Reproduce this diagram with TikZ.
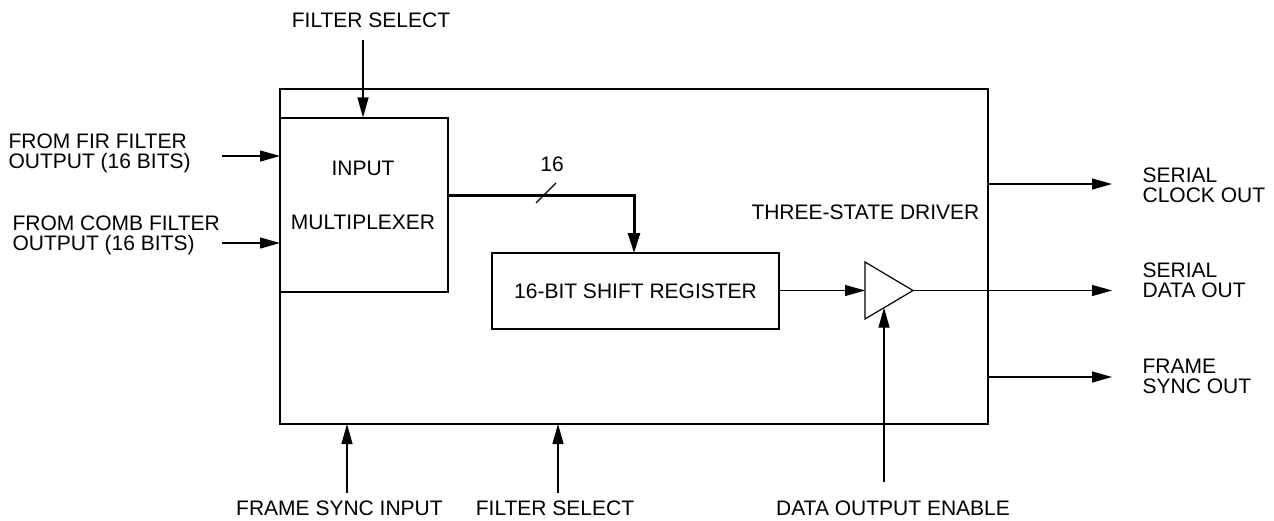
\documentclass[tikz,border=0pt]{standalone}
\usepackage{fontspec}
\setmainfont{Liberation Sans}
\usetikzlibrary{arrows.meta}
\begin{document}
\begin{tikzpicture}[x=1pt,y=-1pt,
  line width=1.2pt,
  lbl/.style={inner sep=0pt,font=\fontsize{21}{20.5}\selectfont},
  lbll/.style={lbl,align=left},
  blk/.style={draw,inner sep=0pt,line width=1.2pt},
  arr/.style={-{Triangle[length=20pt,width=11pt]}},
  bus/.style={line width=3pt,-{Triangle[length=20pt,width=12pt]}}]
\useasboundingbox (0,0) rectangle (1274,520);
% boxes
\node[blk,minimum width=708pt,minimum height=335pt] (outer) at (634,256.5) {};
\node[blk,minimum width=168pt,minimum height=174pt] (mux) at (364,205) {};
\node[blk,minimum width=287pt,minimum height=76pt,lbl,draw] (shift) at (635.5,291) {16-BIT SHIFT REGISTER};
\node[lbl] (minput) at (363,168) {INPUT};
\node[lbl] (mmux) at (363,222) {MULTIPLEXER};
% three-state driver
\coordinate (tl) at (865,262);
\coordinate (bl) at (865,319);
\coordinate (tip) at (913,290.5);
\coordinate (tin) at (865,290.5);
\coordinate (ten) at (884,307.7);
\draw (tl) -- (tip) -- (bl) -- cycle;
\node[lbl,anchor=east] (tsd) at (980,212) {THREE-STATE DRIVER};
% labels
\node[lbll,anchor=north west] (fir) at (8,133) {FROM FIR FILTER\\OUTPUT (16 BITS)};
\node[lbll,anchor=north west] (comb) at (12,215) {FROM COMB FILTER\\OUTPUT (16 BITS)};
\node[lbl,anchor=north] (fstop) at (371,12) {FILTER SELECT};
\node[lbl,anchor=north] (fsin) at (339.5,500) {FRAME SYNC INPUT};
\node[lbl,anchor=north] (fsbot) at (555,500) {FILTER SELECT};
\node[lbl,anchor=north] (doe) at (893,500) {DATA OUTPUT ENABLE};
\node[lbll,anchor=north west] (sclk) at (1142,167) {SERIAL\\CLOCK OUT};
\node[lbll,anchor=north west] (sdat) at (1142,262) {SERIAL\\DATA OUT};
\node[lbll,anchor=north west] (fso) at (1142,358) {FRAME\\SYNC OUT};
\node[lbl] (n16) at (552,164) {16};
% connector endpoints
\coordinate (c1) at (363,40);
\coordinate (c2) at (222,156);
\coordinate (c2e) at (280,156);
\coordinate (c3) at (222,243);
\coordinate (c3e) at (280,243);
\coordinate (b1) at (448,195);
\coordinate (b2) at (634,253);
\coordinate (s1) at (536,203);
\coordinate (s2) at (556,183);
\coordinate (o1) at (1112,290.5);
\coordinate (k0) at (988,184);
\coordinate (k1) at (1112,184);
\coordinate (f0) at (988,377);
\coordinate (f1) at (1112,377);
\coordinate (u1) at (347,493);
\coordinate (u1e) at (347,424);
\coordinate (u2) at (558,493);
\coordinate (u2e) at (558,424);
\coordinate (u3) at (884,482);
% connectors
\draw[arr] (c1) -- (c1 |- mux.north);
\draw[arr] (c2) -- (c2e);
\draw[arr] (c3) -- (c3e);
\draw[bus] (b1) -| (b2);
\draw (s1) -- (s2);
\draw[arr] (shift.east |- tin) -- (tin);
\draw[arr] (tip) -- (o1);
\draw[arr] (k0) -- (k1);
\draw[arr] (f0) -- (f1);
\draw[arr] (u1) -- (u1e);
\draw[arr] (u2) -- (u2e);
\draw[arr] (u3) -- (ten);
\end{tikzpicture}
\end{document}
